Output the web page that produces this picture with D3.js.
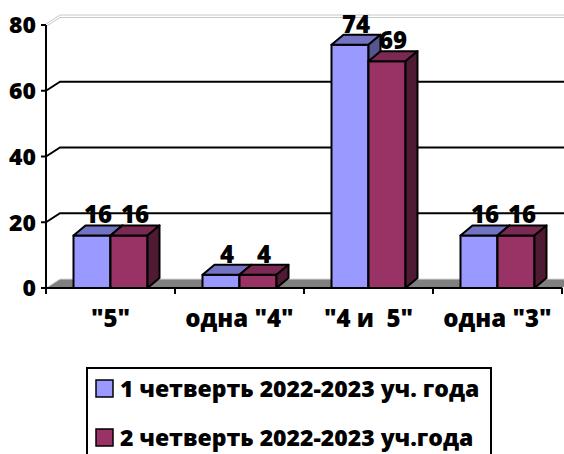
<!DOCTYPE html>
<html><head><meta charset="utf-8">
<script src="https://cdn.jsdelivr.net/npm/d3@7"></script>
<style>
html,body{margin:0;padding:0;background:#fff;}
svg{display:block;}
text{font-family:"Open Sans","Noto Sans",sans-serif;font-weight:800;fill:#000;white-space:pre;}
</style></head>
<body>
<svg id="chart" width="564" height="454"></svg>
<script>
const categories = ['"5"', 'одна "4"', '"4 и  5"', 'одна "3"'];
const series1 = [16, 4, 74, 16];
const series2 = [16, 4, 69, 16];
const seriesNames = ['1 четверть 2022-2023 уч. года', '2 четверть 2022-2023 уч.года'];
const yTicks = [0, 20, 40, 60, 80];

const colors = [
  {front:'#9999FF', top:'#7373C4', side:'#55558F'},
  {front:'#993366', top:'#7A2952', side:'#4E1A34'}
];

const svg = d3.select('#chart');
const X0 = 46, X1 = 562, W = 564;
const y = d3.scaleLinear().domain([0, 80]).range([288, 25]);
const xBand = d3.scaleBand().domain(categories).range([X0, X1]);
const wdx = 14, wdy = -9;   // wall depth
const bdx = 12, bdy = -10;  // bar depth
const y0 = y(0);

// floor
svg.append('polygon')
  .attr('points', [[X0,y0],[X1,y0],[X1+wdx,y0+wdy],[X0+wdx,y0+wdy]].map(p=>p.join(',')).join(' '))
  .attr('fill','#808080');
svg.append('line').attr('x1',X0+wdx).attr('x2',W).attr('y1',y0+wdy).attr('y2',y0+wdy)
  .attr('stroke','#d8d8d8').attr('stroke-width',1);
svg.append('line').attr('x1',X0).attr('y1',y0).attr('x2',X0+wdx).attr('y2',y0+wdy)
  .attr('stroke','#d8d8d8').attr('stroke-width',1);

// gridlines
yTicks.filter(t => t > 0).forEach(t => {
  const yy = y(t);
  if (t === 80) {
    [[-1,'#c8c8c8'],[1.5,'#c8c8c8']].forEach(([o,c]) => {
      svg.append('path')
        .attr('d', `M${X0},${yy+o} L${X0+wdx},${yy+wdy+o} L${W},${yy+wdy+o}`)
        .attr('fill','none').attr('stroke',c).attr('stroke-width',1);
    });
  } else {
    svg.append('path')
      .attr('d', `M${X0},${yy} L${X0+wdx},${yy+wdy} L${W},${yy+wdy}`)
      .attr('fill','none').attr('stroke','#000').attr('stroke-width',2);
  }
});

// axes
svg.append('line').attr('x1',X0).attr('x2',X0).attr('y1',y(80)).attr('y2',y0+1)
  .attr('stroke','#000').attr('stroke-width',2);
yTicks.forEach(t => {
  svg.append('line').attr('x1',X0-5).attr('x2',X0).attr('y1',y(t)).attr('y2',y(t))
    .attr('stroke','#000').attr('stroke-width',2);
  svg.append('text').attr('x',36).attr('y',y(t)).attr('dy','0.36em')
    .attr('text-anchor','end').attr('font-size',23).text(t);
});
svg.append('line').attr('x1',X0).attr('x2',X1).attr('y1',y0).attr('y2',y0)
  .attr('stroke','#000').attr('stroke-width',2);
categories.concat(['__end']).forEach((c,i) => {
  const xx = X0 + i*xBand.bandwidth();
  svg.append('line').attr('x1',xx).attr('x2',xx).attr('y1',y0).attr('y2',y0+6)
    .attr('stroke','#000').attr('stroke-width',2);
});

// bars
const half = 37;
const allSeries = [series1, series2];
categories.forEach((cat, i) => {
  const c = xBand(cat) + xBand.bandwidth()/2;
  const xs = d3.scaleBand().domain([0,1]).range([c-half, c+half]);
  const w = xs.bandwidth();
  allSeries.forEach((ser, s) => {
    const v = ser[i];
    const xl = xs(s), yv = y(v);
    const g = svg.append('g').attr('stroke','#000').attr('stroke-width',2).attr('stroke-linejoin','round');
    g.append('rect').attr('x',xl).attr('y',yv).attr('width',w).attr('height',y0-yv)
      .attr('fill',colors[s].front);
    g.append('polygon').attr('points',[[xl,yv],[xl+bdx,yv+bdy],[xl+w+bdx,yv+bdy],[xl+w,yv]].map(p=>p.join(',')).join(' '))
      .attr('fill',colors[s].top);
    g.append('polygon').attr('points',[[xl+w,yv],[xl+w+bdx,yv+bdy],[xl+w+bdx,y0+bdy],[xl+w,y0]].map(p=>p.join(',')).join(' '))
      .attr('fill',colors[s].side);
  });
  allSeries.forEach((ser, s) => {
    const v = ser[i];
    svg.append('text').attr('x', xs(s) + w/2 + bdx/2).attr('y', y(v) + bdy - 2)
      .attr('text-anchor','middle').attr('font-size',24).text(v);
  });
  svg.append('text').attr('x', c).attr('y', 327).attr('text-anchor','middle')
    .attr('font-size',24).text(cat);
});

// legend
svg.append('rect').attr('x',87).attr('y',368).attr('width',404).attr('height',110)
  .attr('fill','#fff').attr('stroke','#000').attr('stroke-width',2);
seriesNames.forEach((name, s) => {
  const yy = 380 + s*49;
  svg.append('rect').attr('x',96).attr('y',yy).attr('width',17).attr('height',17)
    .attr('fill',colors[s].front).attr('stroke','#000').attr('stroke-width',1.5);
  svg.append('text').attr('x',120).attr('y',yy + 17).attr('font-size',23).text(name);
});
</script>
</body></html>
